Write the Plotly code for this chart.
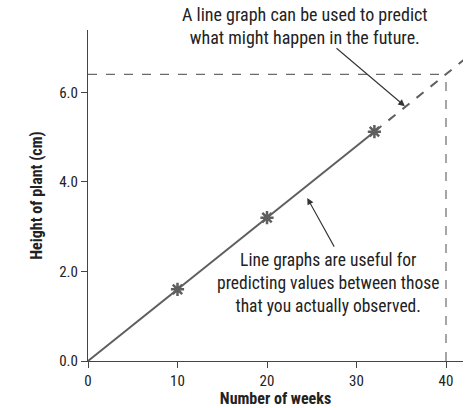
import plotly.graph_objects as go

# Observed data
weeks = [0, 10, 20, 32]
heights = [0.0, 1.6, 3.2, 5.12]
marker_weeks = [10, 20, 32]
marker_heights = [1.6, 3.2, 5.12]

# Extrapolated (predicted) segment
pred_weeks = [32, 42.1]
pred_heights = [5.12, 6.74]

# Prediction guide at week 40
guide_week = 40
guide_height = 6.4

x_ticks = [0, 10, 20, 30, 40]
y_ticks = [0.0, 2.0, 4.0, 6.0]

FONT = "Liberation Sans Narrow, Roboto Condensed, DejaVu Sans Condensed, Arial Narrow, sans-serif"
LINE = "#5f5f5f"
GUIDE = "#6a6a6a"

fig = go.Figure()

fig.add_trace(go.Scatter(x=[0, guide_week], y=[guide_height, guide_height], mode="lines",
                         line=dict(color=GUIDE, width=1.2, dash="dash"), hoverinfo="skip"))
fig.add_trace(go.Scatter(x=[guide_week, guide_week], y=[0, guide_height], mode="lines",
                         line=dict(color=GUIDE, width=1.2, dash="dash"), hoverinfo="skip"))
fig.add_trace(go.Scatter(x=pred_weeks, y=pred_heights, mode="lines",
                         line=dict(color=LINE, width=2, dash="dash"), hoverinfo="skip", cliponaxis=False))
fig.add_trace(go.Scatter(x=weeks, y=heights, mode="lines",
                         line=dict(color=LINE, width=2)))
fig.add_trace(go.Scatter(x=marker_weeks, y=marker_heights, mode="markers",
                         marker=dict(symbol="asterisk-open", size=11, color=LINE,
                                     line=dict(color=LINE, width=2.5))))

# top note (paper coords: it sits above the plot area)
fig.add_annotation(x=24.2 / 41.9, y=1.0, xref="paper", yref="paper", yshift=28, showarrow=False,
                   text="A line graph can be used to predict<br>what might happen in the future.",
                   font=dict(family=FONT, size=18, color="#222"), yanchor="top", align="center")
fig.add_annotation(x=35.4, y=5.69, ax=27.6, ay=7.01, xref="x", yref="y", axref="x", ayref="y",
                   text="", showarrow=True, arrowhead=2, arrowsize=1.2, arrowwidth=1.1, arrowcolor="#333")

fig.add_annotation(x=26.8, y=2.52, xref="x", yref="y", showarrow=False,
                   text="Line graphs are useful for<br>predicting values between those<br>that you actually observed.",
                   font=dict(family=FONT, size=17.5, color="#222"), yanchor="top", align="center")
fig.add_annotation(x=24.5, y=3.64, ax=27.6, ay=2.52, xref="x", yref="y", axref="x", ayref="y",
                   text="", showarrow=True, arrowhead=2, arrowsize=1.2, arrowwidth=1.1, arrowcolor="#333")

fig.update_layout(
    width=467, height=408,
    margin=dict(l=88, r=4, t=30, b=47),
    paper_bgcolor="white", plot_bgcolor="white",
    showlegend=False,
    font=dict(family=FONT, size=15, color="#222"),
)
fig.update_xaxes(range=[0, 41.9], tickvals=x_ticks, ticktext=[str(v) for v in x_ticks],
                 showgrid=False, zeroline=False, showline=True, linecolor="#444", linewidth=1.2,
                 ticks="outside", ticklen=6, tickcolor="#444", tickwidth=1.2,
                 title=dict(text="<b>Number of weeks</b>", standoff=2, font=dict(size=16)))
fig.update_yaxes(range=[0, 7.39], tickvals=y_ticks, ticktext=[f"{v:.1f}" for v in y_ticks],
                 showgrid=False, zeroline=False, showline=True, linecolor="#444", linewidth=1.2,
                 ticks="outside", ticklen=6, tickcolor="#444", tickwidth=1.2,
                 title=dict(text="<b>Height of plant (cm)</b>", standoff=12, font=dict(size=16)))

fig.write_html("out.html", config={"displayModeBar": False},
               post_script="document.body.style.margin='0';document.body.style.overflow='hidden';")
